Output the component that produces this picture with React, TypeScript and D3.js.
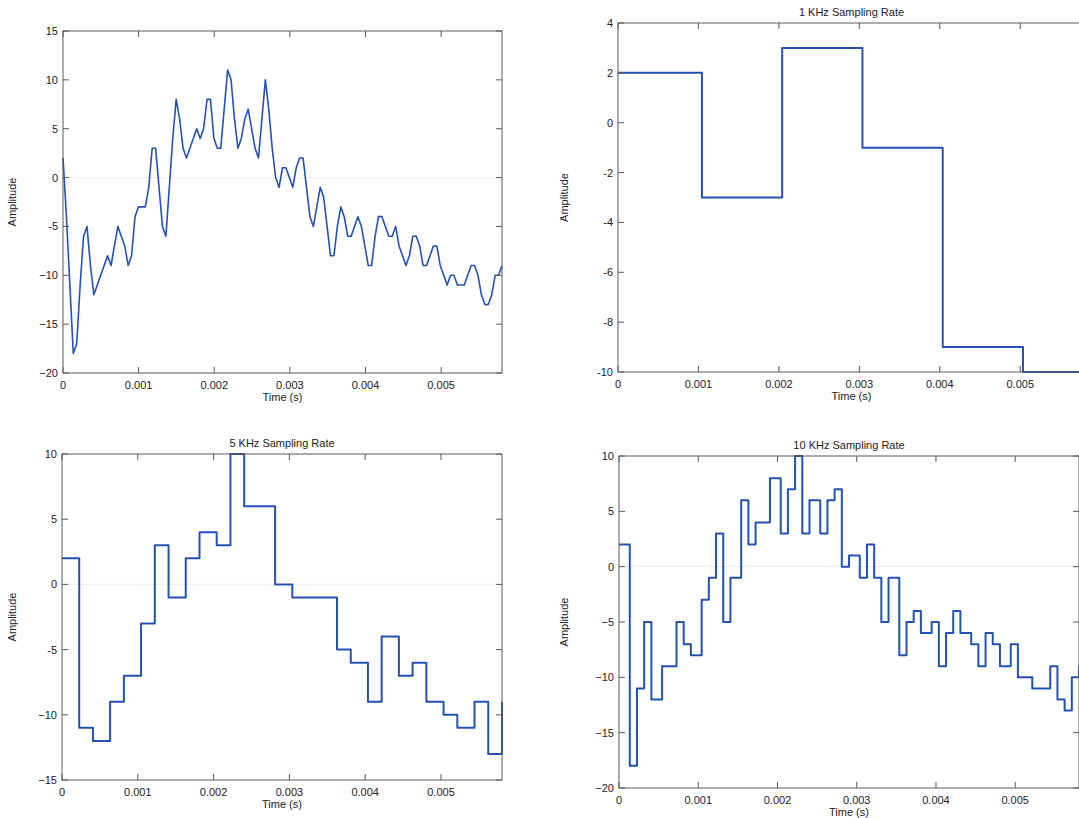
import React from 'react';
import * as d3 from 'd3';

// original recording is sampled at 22.05 kHz, the re-sampled plots pick samples from it
const SOURCE_RATE = 22050;
const X_MAX = 128 / SOURCE_RATE;

// amplitude of each source sample (index 0..128)
const signalValues = [
  2, -4, -11, -18, -17, -11, -6, -5, -9, -12,
  -11, -10, -9, -8, -9, -7, -5, -6, -7, -9,
  -8, -4, -3, -3, -3, -1, 3, 3, -1, -5,
  -6, -1, 4, 8, 6, 3, 2, 3, 4, 5,
  4, 5, 8, 8, 4, 3, 3, 7, 11, 10,
  6, 3, 4, 6, 7, 5, 3, 2, 6, 10,
  7, 3, 0, -1, 1, 1, 0, -1, 1, 2,
  2, -1, -4, -5, -3, -1, -2, -5, -8, -8,
  -5, -3, -4, -6, -6, -5, -4, -5, -7, -9,
  -9, -6, -4, -4, -5, -6, -6, -5, -7, -8,
  -9, -8, -6, -6, -7, -9, -9, -8, -7, -7,
  -9, -10, -11, -10, -10, -11, -11, -11, -10, -9,
  -9, -10, -12, -13, -13, -12, -10, -10, -9,
];

const samples1kIndex = [0, 23, 45, 67, 89, 111];
const samples1kValues = [2, -3, 3, -1, -9, -10];

const samples5kIndex = [0, 5, 9, 14, 18, 23, 27, 31, 36, 40, 45, 49, 53, 58, 62, 67, 71, 75, 80, 84, 89, 93, 98, 102, 106, 111, 115, 120, 124, 128];
const samples5kValues = [2, -11, -12, -9, -7, -3, 3, -1, 2, 4, 3, 10, 6, 6, 0, -1, -1, -1, -5, -6, -9, -4, -7, -6, -9, -10, -11, -9, -13, -9];

const samples10kIndex = [0, 3, 5, 7, 9, 12, 14, 16, 18, 20, 23, 25, 27, 29, 31, 34, 36, 38, 40, 42, 45, 47, 49, 51, 53, 56, 58, 60, 62, 64, 67, 69, 71, 73, 75, 78, 80, 82, 84, 87, 89, 91, 93, 95, 98, 100, 102, 104, 106, 109, 111, 113, 115, 117, 120, 122, 124, 126, 128];
const samples10kValues = [2, -18, -11, -5, -12, -9, -9, -5, -7, -8, -3, -1, 3, -5, -1, 6, 2, 4, 4, 8, 3, 7, 10, 3, 6, 3, 6, 7, 0, 1, -1, 2, -1, -5, -1, -8, -5, -4, -6, -5, -9, -6, -4, -6, -7, -9, -6, -7, -9, -7, -10, -10, -11, -11, -9, -12, -13, -10, -9];

const timeTicks = [0, 0.001, 0.002, 0.003, 0.004, 0.005];
const timeTickLabels = ['0', '0.001', '0.002', '0.003', '0.004', '0.005'];

const ampTicksA = [15, 10, 5, 0, -5, -10, -15, -20];
const ampLabelsA = ['15', '10', '5', '0', '-5', '\u221210', '\u221215', '\u221220'];
const ampTicks1k = [4, 2, 0, -2, -4, -6, -8, -10];
const ampLabels1k = ['4', '2', '0', '-2', '-4', '-6', '-8', '-10'];
const ampTicks5k = [10, 5, 0, -5, -10, -15];
const ampLabels5k = ['10', '5', '0', '-5', '\u221210', '\u221215'];
const ampTicks10k = [10, 5, 0, -5, -10, -15, -20];
const ampLabels10k = ['10', '5', '0', '\u22125', '\u221210', '\u221215', '\u221220'];

const FONT = "'Liberation Sans', Arial, Helvetica, sans-serif";
const BOX = '#5a5a5a';
const BLUE = '#2352b4';

type Box = { left: number; top: number; width: number; height: number };

type PanelProps = {
  id: string;
  box: Box;
  yDomain: [number, number];
  yTicks: number[];
  yLabels: string[];
  title?: string;
  times: number[];
  values: number[];
  stairs: boolean;
  zeroLine: boolean;
};

function Panel({ id, box, yDomain, yTicks, yLabels, title, times, values, stairs, zeroLine }: PanelProps) {
  const { left, top, width, height } = box;
  const x = d3.scaleLinear().domain([0, X_MAX]).range([0, width]);
  const y = d3.scaleLinear().domain(yDomain).range([height, 0]);

  const pts: [number, number][] = times.map((t, i) => [t, values[i]]);
  if (stairs && times[times.length - 1] < X_MAX) {
    pts.push([X_MAX, values[values.length - 1]]);
  }
  const line = d3
    .line<[number, number]>()
    .x((d) => x(d[0]))
    .y((d) => y(d[1]))
    .curve(stairs ? d3.curveStepAfter : d3.curveLinear);

  const tl = 6;

  return (
    <g transform={`translate(${left},${top})`} fontFamily={FONT} fontSize={11} fill="#222">
      <defs>
        <clipPath id={id}>
          <rect x={-1} y={-1} width={width + 2} height={height + 2} />
        </clipPath>
      </defs>
      {zeroLine && <line x1={0} x2={width} y1={y(0)} y2={y(0)} stroke="#ececec" strokeWidth={1} />}
      <path
        d={line(pts) ?? ''}
        fill="none"
        stroke={BLUE}
        strokeWidth={stairs ? 2 : 1.6}
        strokeLinejoin="round"
        clipPath={`url(#${id})`}
      />
      <rect x={0} y={0} width={width} height={height} fill="none" stroke={BOX} strokeWidth={1} />
      {timeTicks.map((t, i) => (
        <g key={`xt${i}`}>
          <line x1={x(t)} x2={x(t)} y1={height} y2={height - tl} stroke={BOX} />
          <line x1={x(t)} x2={x(t)} y1={0} y2={tl} stroke={BOX} />
          <text x={x(t)} y={height + 16} textAnchor="middle">
            {timeTickLabels[i]}
          </text>
        </g>
      ))}
      {yTicks.map((v, i) => (
        <g key={`yt${i}`}>
          <line x1={0} x2={tl} y1={y(v)} y2={y(v)} stroke={BOX} />
          <line x1={width} x2={width - tl} y1={y(v)} y2={y(v)} stroke={BOX} />
          <text x={-5} y={y(v) + 4} textAnchor="end">
            {yLabels[i]}
          </text>
        </g>
      ))}
      <text x={width / 2} y={height + 28} textAnchor="middle">
        Time (s)
      </text>
      <text
        transform={`translate(${-left + (left < 100 ? 16 : 20) - (left < 100 ? 0 : -548)},${height / 2}) rotate(-90)`}
        textAnchor="middle"
      >
        Amplitude
      </text>
      {title && (
        <text x={width / 2} y={-7} textAnchor="middle">
          {title}
        </text>
      )}
    </g>
  );
}

const toTimes = (idx: number[]) => idx.map((n) => n / SOURCE_RATE);

export default function App() {
  const signalTimes = signalValues.map((_, n) => n / SOURCE_RATE);
  return (
    <svg
      width={1079}
      height={818}
      style={{ position: 'absolute', left: 0, top: 0, background: '#fff' }}
    >
      <rect width={1079} height={818} fill="#fff" />
      <Panel
        id="clipA"
        box={{ left: 63, top: 31, width: 439, height: 342 }}
        yDomain={[-20, 15]}
        yTicks={ampTicksA}
        yLabels={ampLabelsA}
        times={signalTimes}
        values={signalValues}
        stairs={false}
        zeroLine={true}
      />
      <Panel
        id="clipB"
        box={{ left: 618, top: 23, width: 467, height: 349 }}
        yDomain={[-10, 4]}
        yTicks={ampTicks1k}
        yLabels={ampLabels1k}
        title="1 KHz Sampling Rate"
        times={toTimes(samples1kIndex)}
        values={samples1kValues}
        stairs={true}
        zeroLine={false}
      />
      <Panel
        id="clipC"
        box={{ left: 62, top: 454, width: 440, height: 326 }}
        yDomain={[-15, 10]}
        yTicks={ampTicks5k}
        yLabels={ampLabels5k}
        title="5 KHz Sampling Rate"
        times={toTimes(samples5kIndex)}
        values={samples5kValues}
        stairs={true}
        zeroLine={true}
      />
      <Panel
        id="clipD"
        box={{ left: 619, top: 456, width: 460, height: 332 }}
        yDomain={[-20, 10]}
        yTicks={ampTicks10k}
        yLabels={ampLabels10k}
        title="10 KHz Sampling Rate"
        times={toTimes(samples10kIndex)}
        values={samples10kValues}
        stairs={true}
        zeroLine={true}
      />
    </svg>
  );
}
